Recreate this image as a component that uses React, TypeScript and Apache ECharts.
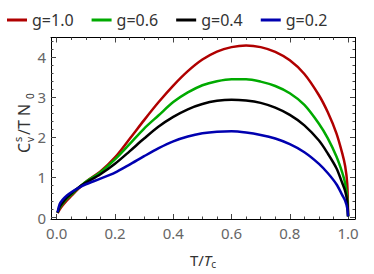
import React, { useEffect, useRef } from "react";
import * as echarts from "echarts";

const xs = [0.003, 0.01, 0.02, 0.035, 0.05, 0.075, 0.1, 0.15, 0.2, 0.25, 0.3, 0.35, 0.4, 0.45, 0.5, 0.55, 0.6, 0.65, 0.7, 0.75, 0.8, 0.85, 0.9, 0.93, 0.96, 0.98, 0.99, 0.997, 1.0];
const g10 = [0.11, 0.2, 0.3, 0.43, 0.54, 0.72, 0.89, 1.15, 1.5, 1.96, 2.43, 2.88, 3.29, 3.65, 3.94, 4.14, 4.25, 4.29, 4.25, 4.13, 3.92, 3.58, 3.05, 2.63, 2.1, 1.6, 1.28, 0.85, 0.03];
const g06 = [0.12, 0.24, 0.34, 0.47, 0.57, 0.74, 0.89, 1.13, 1.45, 1.83, 2.22, 2.55, 2.88, 3.12, 3.3, 3.4, 3.45, 3.45, 3.39, 3.28, 3.1, 2.81, 2.34, 1.98, 1.52, 1.12, 0.85, 0.5, 0.03];
const g04 = [0.12, 0.27, 0.37, 0.5, 0.6, 0.75, 0.87, 1.08, 1.34, 1.65, 1.97, 2.27, 2.51, 2.7, 2.83, 2.91, 2.94, 2.92, 2.86, 2.74, 2.56, 2.3, 1.92, 1.6, 1.23, 0.86, 0.66, 0.4, 0.03];
const g02 = [0.13, 0.33, 0.44, 0.55, 0.63, 0.74, 0.83, 0.97, 1.12, 1.32, 1.53, 1.73, 1.9, 2.02, 2.1, 2.14, 2.15, 2.12, 2.06, 1.97, 1.83, 1.63, 1.34, 1.11, 0.83, 0.56, 0.42, 0.24, 0.03];

const seriesNames = ["g=1.0", "g=0.6", "g=0.4", "g=0.2"];
const seriesValues = [g10, g06, g04, g02];
const colors = ["#b00000", "#00aa00", "#000000", "#0000b0"];

const xMajor = [0, 0.2, 0.4, 0.6, 0.8, 1.0];
const xMinor = [0.05, 0.1, 0.15, 0.25, 0.3, 0.35, 0.45, 0.5, 0.55, 0.65, 0.7, 0.75, 0.85, 0.9, 0.95];
const yMajor = [0, 1, 2, 3, 4];
const yMinor = [0.2, 0.4, 0.6, 0.8, 1.2, 1.4, 1.6, 1.8, 2.2, 2.4, 2.6, 2.8, 3.2, 3.4, 3.6, 3.8, 4.2, 4.4];

const X_MIN = -0.0196, X_MAX = 1.0237, Y_MIN = -0.036, Y_MAX = 4.49;
const FONT = "Noto Sans";

function mkX(pos: "bottom" | "top", ticks: number[], len: number, labels: boolean, line: boolean) {
  return {
    type: "value", position: pos, min: X_MIN, max: X_MAX,
    axisLine: { show: line, onZero: false, lineStyle: { color: "#000", width: 1 } },
    axisTick: { show: true, inside: true, length: len, customValues: ticks, lineStyle: { color: "#444", width: 1 } },
    axisLabel: labels ? { show: true, customValues: xMajor, formatter: (v: number) => v.toFixed(1), color: "#666", fontSize: 15, fontFamily: FONT, margin: 6 } : { show: false },
    splitLine: { show: false },
  };
}
function mkY(pos: "left" | "right", ticks: number[], len: number, labels: boolean, line: boolean) {
  return {
    type: "value", position: pos, min: Y_MIN, max: Y_MAX,
    axisLine: { show: line, onZero: false, lineStyle: { color: "#000", width: 1 } },
    axisTick: { show: true, inside: true, length: len, customValues: ticks, lineStyle: { color: "#444", width: 1 } },
    axisLabel: labels ? { show: true, customValues: yMajor, formatter: (v: number) => String(Math.round(v)), color: "#666", fontSize: 15, fontFamily: FONT, margin: 5 } : { show: false },
    splitLine: { show: false },
  };
}

export default function App() {
  const ref = useRef<HTMLDivElement>(null);
  useEffect(() => {
    if (!ref.current) return;
    const chart = echarts.init(ref.current, undefined, { renderer: "svg" });
    chart.setOption({
      animation: false,
      backgroundColor: "#fff",
      legend: {
        top: 7, left: 2, itemWidth: 20, itemHeight: 3, itemGap: 18, icon: "rect",
        textStyle: { color: "#333", fontSize: 16, fontFamily: FONT },
        data: seriesNames,
      },
      grid: { left: 51, right: 19, top: 37.5, bottom: 49.5 },
      xAxis: [
        { ...mkX("bottom", xMajor, 5, true, true), name: "{a|T/}{b|T}{c|c}", nameLocation: "middle", nameGap: 32,
          nameTextStyle: { rich: { a: { fontSize: 15, color: "#333", fontFamily: FONT }, b: { fontSize: 15, color: "#333", fontStyle: "italic", fontFamily: FONT }, c: { fontSize: 10, color: "#333", fontFamily: FONT, padding: [8, 0, 0, 0] } } } },
        mkX("bottom", xMinor, 2.5, false, false),
        mkX("top", xMajor, 5, false, true),
        mkX("top", xMinor, 2.5, false, false),
      ],
      yAxis: [
        mkY("left", yMajor, 5, true, true),
        mkY("left", yMinor, 2.5, false, false),
        mkY("right", yMajor, 5, false, true),
        mkY("right", yMinor, 2.5, false, false),
      ],
      graphic: [
        {
          type: "group", x: 32, y: 153, rotation: Math.PI / 2,
          children: [
            { type: "text", x: 0, y: 0, style: { text: "C", fontSize: 16, fill: "#333", fontFamily: FONT, textVerticalAlign: "bottom" } },
            { type: "text", x: 11, y: -9, style: { text: "s", fontSize: 11, fill: "#333", fontFamily: FONT, textVerticalAlign: "bottom" } },
            { type: "text", x: 11, y: 3, style: { text: "v", fontSize: 10, fill: "#333", fontFamily: FONT, textVerticalAlign: "bottom" } },
            { type: "text", x: 18, y: 0, style: { text: "/T N", fontSize: 16, fill: "#333", fontFamily: FONT, textVerticalAlign: "bottom" } },
            { type: "text", x: 54, y: 3, style: { text: "0", fontSize: 10, fill: "#333", fontFamily: FONT, textVerticalAlign: "bottom" } },
          ],
        },
      ],
      series: seriesNames.map((name, i) => ({
        name, type: "line", xAxisIndex: 0, yAxisIndex: 0,
        data: xs.map((x, j) => [x, seriesValues[i][j]]),
        showSymbol: false, symbol: "none", smooth: 0.3,
        lineStyle: { color: colors[i], width: 2.5 },
        itemStyle: { color: colors[i] },
      })),
    });
    return () => chart.dispose();
  }, []);
  return <div ref={ref} style={{ position: "fixed", left: 0, top: 0, width: 374, height: 274 }} />;
}
